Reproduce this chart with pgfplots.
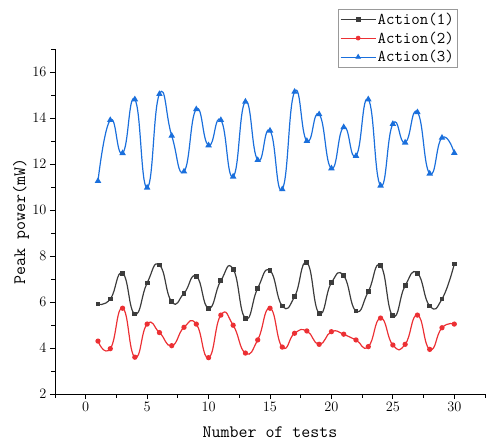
\documentclass[border=0pt]{standalone}
\usepackage{pgfplots}
\pgfplotsset{compat=1.18}
\definecolor{cblack}{HTML}{3C3C3C}
\definecolor{cred}{HTML}{EC3034}
\definecolor{cblue}{HTML}{1A6FDC}
\begin{document}
\begin{tikzpicture}
\begin{axis}[name=ax, scale only axis, width=430bp, height=345bp,
  xmin=-2.5, xmax=32.5, ymin=2, ymax=17,
  axis x line*=bottom, axis y line*=left,
  xtick={0,5,...,30}, ytick={2,4,...,16},
  minor xtick={-2.5,2.5,7.5,12.5,17.5,22.5,27.5,32.5},
  minor ytick={3,5,...,17},
  tick align=outside, major tick length=5bp, minor tick length=3.5bp,
  tick style={black, line width=0.8pt},
  axis line style={line width=0.8pt},
  tick label style={font=\fontsize{15.5}{15.5}\selectfont},
  xlabel={Number of tests}, ylabel={Peak power(mW)},
  label style={font=\ttfamily\fontsize{17.5}{17.5}\selectfont},
  xlabel style={at={(axis description cs:0.5,-0.11)}, anchor=center},
  ylabel style={at={(axis description cs:-0.079,0.5)}, anchor=center},
  legend style={at={(0.658,1.116)}, anchor=north west, draw=gray!80, line width=0.6pt,
    font=\ttfamily\fontsize{16.5}{16.5}\selectfont, row sep=3pt, inner sep=2pt,
    nodes={inner sep=1.5pt}},
  legend cell align=left,
  legend image code/.code={\draw[mark repeat=2,mark phase=2, line width=0.7pt] plot coordinates {(0cm,0cm)(0.62cm,0cm)(1.24cm,0cm)};},
]
\addplot[cblack, line width=1.2pt, smooth, tension=0.9, mark=square*, mark size=1.8bp, mark options={solid}] coordinates {
(1,5.91)(2,6.13)(3,7.25)(4,5.48)(5,6.83)(6,7.61)(7,6.01)(8,6.38)(9,7.12)(10,5.73)
(11,6.93)(12,7.43)(13,5.29)(14,6.60)(15,7.36)(16,5.83)(17,6.23)(18,7.71)(19,5.51)(20,6.84)
(21,7.14)(22,5.61)(23,6.45)(24,7.58)(25,5.40)(26,6.71)(27,7.25)(28,5.83)(29,6.13)(30,7.65)};
\addlegendentry{Action(1)}
\addplot[cred, line width=1.2pt, smooth, tension=0.9, mark=*, mark size=2bp] coordinates {
(1,4.30)(2,3.97)(3,5.73)(4,3.60)(5,5.04)(6,4.67)(7,4.10)(8,4.90)(9,5.04)(10,3.58)
(11,5.43)(12,4.99)(13,3.78)(14,4.35)(15,5.73)(16,4.04)(17,4.64)(18,4.74)(19,4.16)(20,4.71)
(21,4.60)(22,4.35)(23,4.06)(24,5.30)(25,4.13)(26,4.16)(27,5.43)(28,3.94)(29,4.88)(30,5.04)};
\addlegendentry{Action(2)}
\addplot[cblue, line width=1.2pt, smooth, tension=0.9, mark=triangle*, mark size=2.6bp] coordinates {
(1,11.26)(2,13.91)(3,12.47)(4,14.81)(5,10.97)(6,15.04)(7,13.23)(8,11.67)(9,14.38)(10,12.81)
(11,13.91)(12,11.45)(13,14.71)(14,12.17)(15,13.45)(16,10.90)(17,15.14)(18,13.00)(19,14.16)(20,11.81)
(21,13.60)(22,12.35)(23,14.81)(24,11.06)(25,13.74)(26,12.93)(27,14.25)(28,11.58)(29,13.14)(30,12.48)};
\addlegendentry{Action(3)}
\end{axis}
\pgfresetboundingbox
\path (ax.south west) ++(-55bp,-49bp) rectangle ++(492bp,443bp);
\end{tikzpicture}
\end{document}
